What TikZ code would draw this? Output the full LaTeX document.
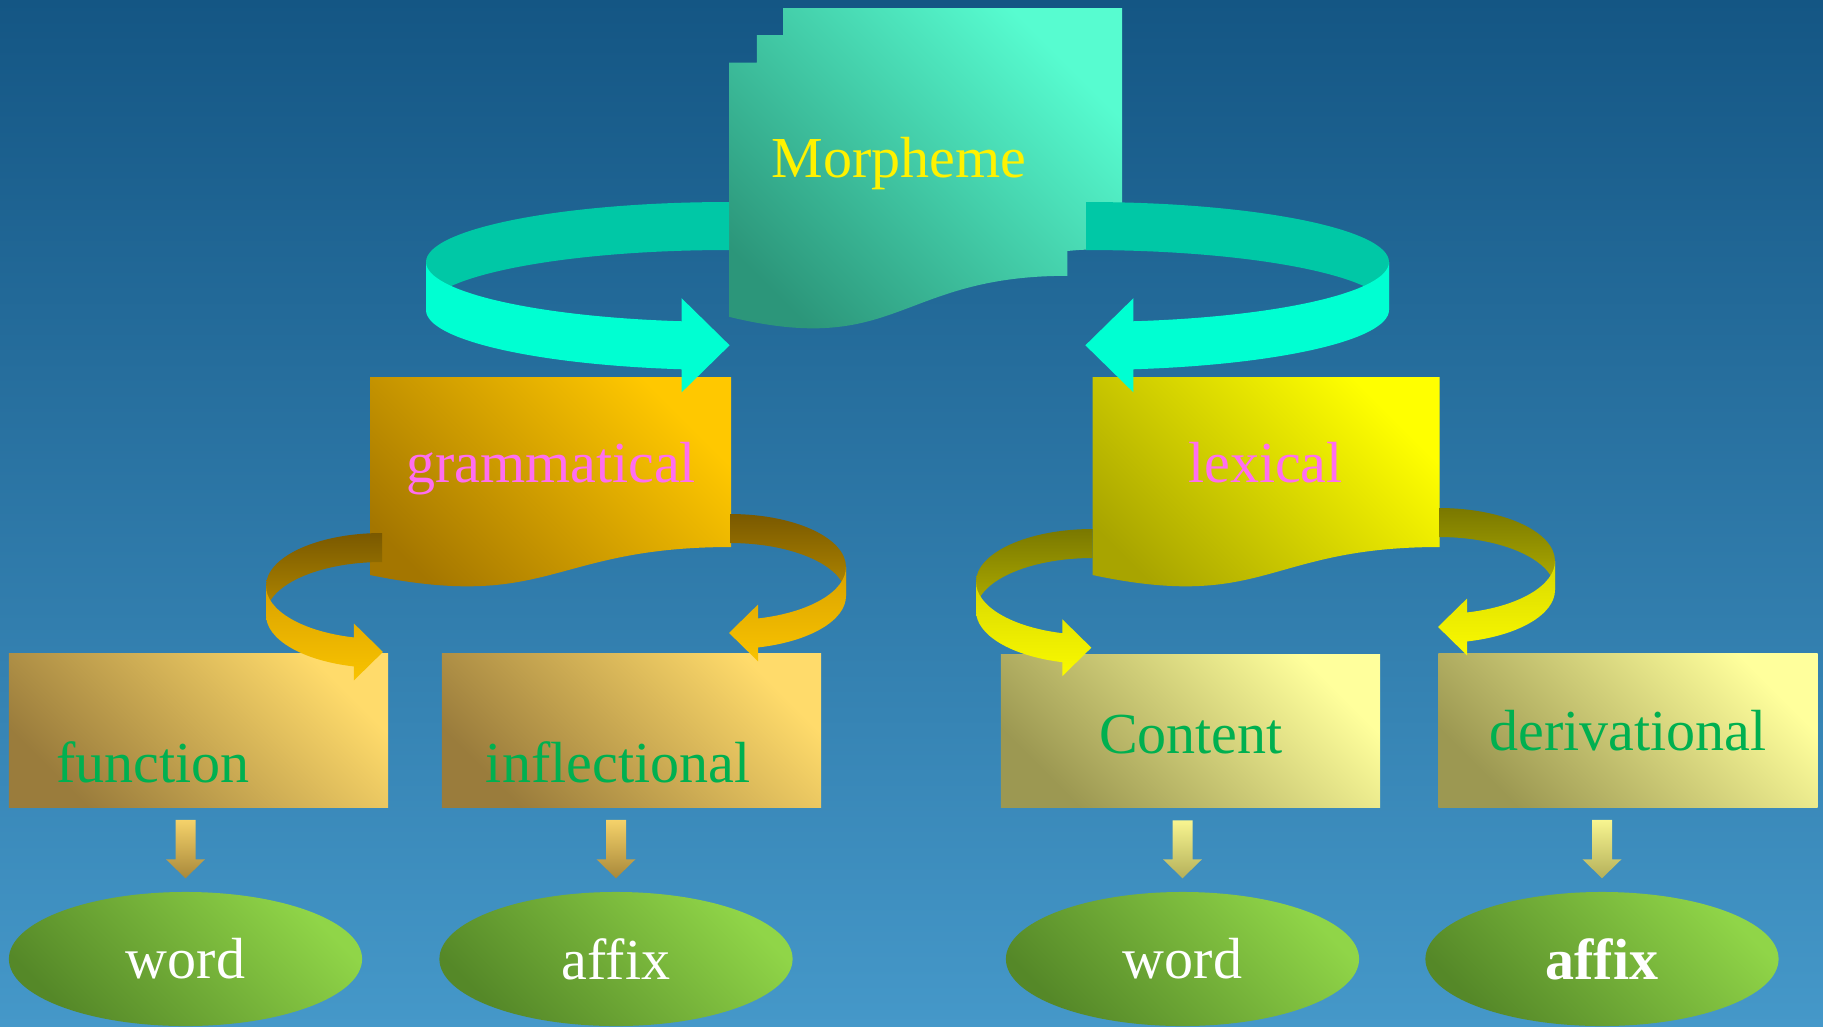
\documentclass[tikz,border=0pt]{standalone}
\usepackage{fontspec}
\setmainfont{Liberation Serif}
\usetikzlibrary{shapes.geometric,calc}
\definecolor{bgtop}{RGB}{20,86,132}
\definecolor{bgbot}{RGB}{69,152,201}
\definecolor{morphtop}{RGB}{87,252,208}
\definecolor{morphbot}{RGB}{44,150,122}
\definecolor{gramtop}{RGB}{255,200,0}
\definecolor{grambot}{RGB}{164,118,0}
\definecolor{lextop}{RGB}{255,255,0}
\definecolor{lexbot}{RGB}{168,164,0}
\definecolor{gleaftop}{RGB}{255,219,107}
\definecolor{gleafbot}{RGB}{154,124,60}
\definecolor{lleaftop}{RGB}{255,255,156}
\definecolor{lleafbot}{RGB}{156,152,82}
\definecolor{unittop}{RGB}{144,213,72}
\definecolor{unitbot}{RGB}{85,136,40}
\definecolor{ringback}{RGB}{0,200,166}
\definecolor{ringfront}{RGB}{0,255,210}
\definecolor{pinktext}{RGB}{255,110,240}
\definecolor{greentext}{RGB}{0,176,80}
\definecolor{garrowtop}{RGB}{245,210,106}
\definecolor{garrowbot}{RGB}{168,136,58}
\definecolor{larrowtop}{RGB}{248,245,144}
\definecolor{larrowbot}{RGB}{180,176,90}

% ring arrow: centre of upper rim, radii, band height, side angle, end angle, back style, front style
\newcommand{\ringarrow}[9]{%
  \path[#8] (#1,{#2-#4}) arc[start angle=270, end angle=#6, x radius=#3, y radius=#4]
    -- ++(0,#5) arc[start angle=#6, end angle=270, x radius=#3, y radius=#4] -- cycle;
  \path[#9] ({#1+#3*cos(#6)},#2) arc[start angle=#6, end angle=#7, x radius=#3, y radius=#4]
    -- ++(0,{-0.48*#5}) -- ++({-cos(#6)*#5},{0.98*#5}) -- ++({cos(#6)*#5},{0.98*#5})
    -- ++(0,{-0.48*#5}) arc[start angle=#7, end angle=#6, x radius=#3, y radius=#4] -- cycle;
}

% block arrow pointing down: start, end, style
\newcommand{\blockarrow}[3]{%
  \path[#3] ($(#1)+(-10,12)$) -- ($(#1)+(10,12)$) -- ($(#2)+(10,-32)$) -- ($(#2)+(19.5,-32)$)
    -- ($(#2)+(0,-13)$) -- ($(#2)+(-19.5,-32)$) -- ($(#2)+(-10,-32)$) -- cycle;
}

\begin{document}
\begin{tikzpicture}[
    x=0.01cm, y=-0.01cm,
    lbl/.style={font=\fontsize{16.5}{20}\selectfont, anchor=base, inner sep=0pt},
    leaf/.style={rectangle, inner sep=0pt, minimum width=3.79cm, minimum height=1.53cm},
    gleaf/.style={leaf, top color=gleaftop, bottom color=gleafbot, shading angle=-45},
    lleaf/.style={leaf, top color=lleaftop, bottom color=lleafbot, shading angle=-45},
    unit/.style={ellipse, inner sep=0pt, minimum width=3.53cm, minimum height=1.34cm, top color=unittop, bottom color=unitbot, shading angle=-45, text=white, font=\fontsize{16.5}{20}\selectfont},
    garrow/.style={top color=garrowtop, bottom color=garrowbot},
    larrow/.style={top color=larrowtop, bottom color=larrowbot},
    cyanback/.style={fill=ringback},
    cyanfront/.style={fill=ringfront},
    gback/.style={top color={rgb,255:red,122;green,89;blue,0}, bottom color={rgb,255:red,180;green,138;blue,0}},
    gfront/.style={top color={rgb,255:red,217;green,162;blue,0}, bottom color={rgb,255:red,249;green,195;blue,0}},
    lback/.style={top color={rgb,255:red,122;green,120;blue,0}, bottom color={rgb,255:red,178;green,176;blue,0}},
    lfront/.style={top color={rgb,255:red,216;green,216;blue,0}, bottom color={rgb,255:red,250;green,250;blue,0}}
]

% Background
\useasboundingbox (0,0) rectangle (1823,1026);
\shade[top color=bgtop, bottom color=bgbot] (0,0) rectangle (1823,1026);

% Morpheme (stacked documents)
\path[top color=morphtop, bottom color=morphbot, shading angle=-45]
    (729,62.6) -- (756.9,62.6) -- (756.9,35) -- (783.1,35) -- (783.1,8) -- (1122,8)
    -- (1122,221.9) .. controls (1107.5,221.9) and (1092.9,223) .. (1092.9,223)
    -- (1092.9,249.5) .. controls (1080.1,249.5) and (1067.3,251) .. (1067.3,251)
    -- (1067.3,275.8) .. controls (898.2,275.8) and (898.2,357.9) .. (729,316.8) -- cycle;

% Second level documents
\path[top color=gramtop, bottom color=grambot, shading angle=-45]
    (370,377) -- (731,377) -- (731,547) .. controls (550.5,547) and (550.5,611.8) .. (370,575) -- cycle;
\path[top color=lextop, bottom color=lexbot, shading angle=-45]
    (1092.5,377) -- (1439.5,377) -- (1439.5,547) .. controls (1266,547) and (1266,611.8) .. (1092.5,575) -- cycle;

% Third level boxes
\node[gleaf] (fn) at (198.5,730.5) {};
\node[gleaf] (infl) at (631.5,730.5) {};
\node[lleaf] (cont) at (1190.5,731) {};
\node[lleaf] (deriv) at (1628,730.5) {};

% Units
\node[unit] (word1) at (185.5,959) {word};
\node[unit] (affix1) at (616,959) {affix};
\node[unit] (word2) at (1182.5,959) {word};
\node[unit] (affix2) at (1602,959) {\bfseries affix};

% Down arrows
\blockarrow{fn.south -| word1.north}{word1.north}{garrow}
\blockarrow{infl.south -| affix1.north}{affix1.north}{garrow}
\blockarrow{cont.south -| word2.north}{word2.north}{larrow}
\blockarrow{deriv.south -| affix2.north}{affix2.north}{larrow}

% Ring arrows
\ringarrow{729}{262}{303}{60}{48}{180}{99}{cyanback}{cyanfront}
\ringarrow{1086}{262}{303}{60}{48}{360}{441}{cyanback}{cyanfront}
\ringarrow{382}{586}{116}{53}{29}{180}{104}{gback}{gfront}
\ringarrow{730}{567}{116}{53}{29}{360}{436}{gback}{gfront}
\ringarrow{1092.5}{582}{116.5}{53}{29}{180}{105}{lback}{lfront}
\ringarrow{1439}{561}{116}{53}{29}{360}{436}{lback}{lfront}

% Labels
\node[lbl, text=yellow] (morph) at (899,177) {Morpheme};
\node[lbl, text=pinktext] (gram) at (551,482) {grammatical};
\node[lbl, text=pinktext] (lex) at (1265.5,482) {lexical};
\node[lbl, text=greentext] (fntext) at (153,782) {function};
\node[lbl, text=greentext] (infltext) at (618,782) {inflectional};
\node[lbl, text=greentext] (conttext) at (1191,753) {Content};
\node[lbl, text=greentext] (derivtext) at (1628,750) {derivational};

\end{tikzpicture}
\end{document}
